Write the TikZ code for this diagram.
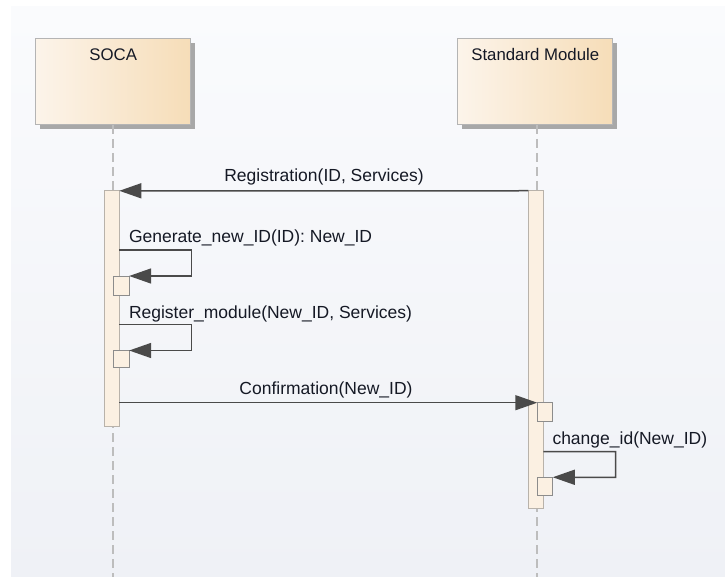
\documentclass[tikz,border=0pt]{standalone}
\usepackage{fontspec}
\setmainfont{Liberation Sans}
\usetikzlibrary{arrows.meta,shadows}
\definecolor{bgtop}{HTML}{FAFBFD}
\definecolor{bgbot}{HTML}{EFF1F6}
\definecolor{boxL}{HTML}{FCF4EA}
\definecolor{boxR}{HTML}{F6DDB8}
\definecolor{boxline}{HTML}{B4B4B4}
\definecolor{shadowc}{HTML}{A8A8A8}
\definecolor{barfill}{HTML}{FBF0E2}
\definecolor{barline}{HTML}{B8B2AA}
\definecolor{smallline}{HTML}{8C8C8C}
\definecolor{msgc}{HTML}{4A4A4A}
\definecolor{txtc}{HTML}{151925}
\definecolor{lifec}{HTML}{BDBDBD}
\begin{document}
\begin{tikzpicture}[x=1pt,y=-1pt,
  every node/.style={inner sep=0pt, outer sep=0pt, text=txtc, font=\fontsize{16.8}{20}\selectfont},
  actor/.style={draw=boxline, line width=1pt, left color=boxL, right color=boxR,
    minimum width=155pt, minimum height=86pt,
    drop shadow={shadow xshift=4pt, shadow yshift=-4pt, fill=shadowc, opacity=1}},
  actbar/.style={draw=barline, line width=0.9pt, fill=barfill, minimum width=15pt},
  smallbox/.style={draw=smallline, line width=0.9pt, fill=barfill, minimum width=15.5pt},
  lifeline/.style={draw=lifec, line width=1.2pt, dash pattern=on 9pt off 5pt},
  msg/.style={draw=msgc, line width=1.5pt, -{Triangle[length=22pt,width=15pt]}, msgc},
  lbl/.style={anchor=base},
  mlbl/.style={anchor=base, font=\fontsize{17.5}{20}\selectfont}
]
\useasboundingbox (0,0) rectangle (725,577);
\shade[top color=bgtop, bottom color=bgbot] (11,7) rectangle (725,577);

% lifelines
\coordinate (socaend) at (113,577);
\coordinate (smend) at (537,577);
\node[actor] (soca) at (113.2,82) {};
\node[actor] (sm) at (535.3,82) {};
\draw[lifeline] (soca.south -| socaend) -- (socaend);
\draw[lifeline] (sm.south -| smend) -- (smend);
\node[lbl] (socat) at (113.2,61) {SOCA};
\node[lbl] (smt) at (535.3,61) {Standard Module};

% activation bars
\node[actbar, minimum height=236pt] (socabar) at (111.8,308.8) {};
\node[actbar, minimum height=317.5pt] (smbar) at (535.8,349.5) {};
\node[smallbox, minimum height=19pt] (sb1) at (121.4,285.5) {};
\node[smallbox, minimum height=17pt] (sb2) at (121.4,359) {};
\node[smallbox, minimum height=19pt] (sb3) at (545,412.2) {};
\node[smallbox, minimum height=18.5pt] (sb4) at (545,486.5) {};

% Registration
\draw[msg] (smbar.north west) -- (socabar.north east);
\node[mlbl] (m1) at (324,181.5) {Registration(ID, Services)};

% Generate_new_ID
\draw[msg] (socabar.east |- 0,250) -- (191.7,250) -- (191.7,276) -- (sb1.north east);
\node[mlbl, anchor=base west] (m2) at (129,243) {Generate\_new\_ID(ID): New\_ID};

% Register_module
\draw[msg] (socabar.east |- 0,324.3) -- (191.7,324.3) -- (191.7,350.5) -- (sb2.north east);
\node[mlbl, anchor=base west] (m3) at (129,318) {Register\_module(New\_ID, Services)};

% Confirmation
\draw[msg] (socabar.east |- sb3.north) -- (sb3.north west);
\node[mlbl] (m4) at (326,394) {Confirmation(New\_ID)};

% change_id
\draw[msg] (smbar.east |- 0,451.5) -- (615.7,451.5) -- (615.7,477.3) -- (sb4.north east);
\node[mlbl, anchor=base west] (m5) at (552.5,444) {change\_id(New\_ID)};
\end{tikzpicture}
\end{document}
